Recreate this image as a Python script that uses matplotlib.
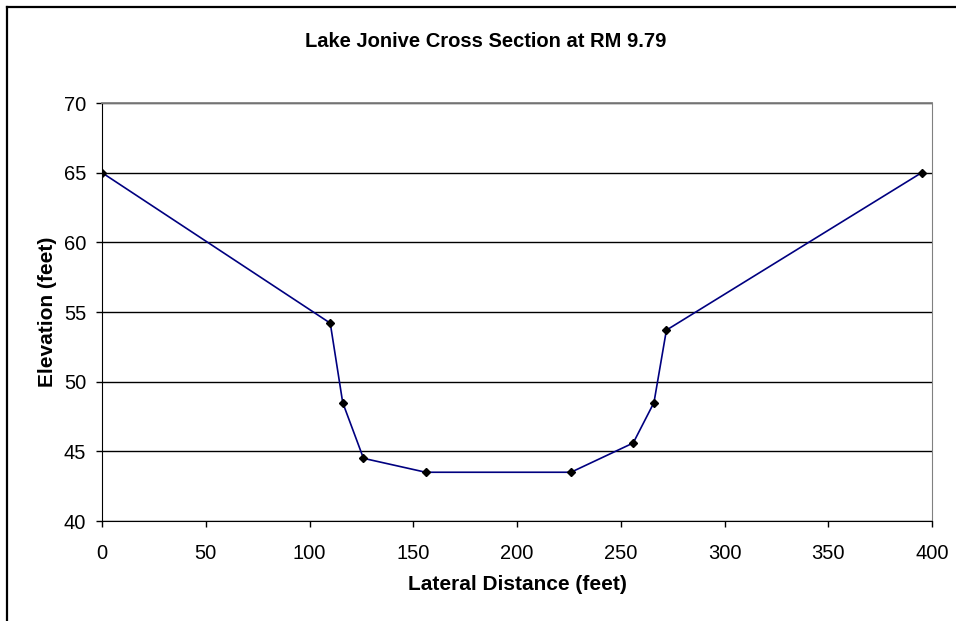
import matplotlib
matplotlib.use("Agg")
import matplotlib.pyplot as plt
from matplotlib.lines import Line2D

plt.rcParams['font.family'] = ['Liberation Sans', 'DejaVu Sans']

# Cross section survey points
distance = [0, 110, 116, 126, 156, 226, 256, 266, 272, 395]
elevation = [65, 54.2, 48.5, 44.5, 43.5, 43.5, 45.6, 48.5, 53.7, 65]

xticks = [0, 50, 100, 150, 200, 250, 300, 350, 400]
yticks = [40, 45, 50, 55, 60, 65, 70]

fig = plt.figure(figsize=(9.56, 6.21), dpi=100)
ax = fig.add_axes([0.1067, 0.1610, 0.8682, 0.6731])

# chart border (only top and left edges are inside the picture)
fig.add_artist(Line2D([6.5 / 956, 6.5 / 956], [0, 1 - 6.5 / 621],
                      transform=fig.transFigure, color='black', linewidth=1.6))
fig.add_artist(Line2D([6.5 / 956, 1], [1 - 6.5 / 621, 1 - 6.5 / 621],
                      transform=fig.transFigure, color='black', linewidth=1.6))

ax.plot(distance, elevation, color='#000080', linewidth=1.2,
        marker='D', markersize=4.5, markerfacecolor='black',
        markeredgecolor='black', zorder=3)

ax.set_xlim(0, 400)
ax.set_ylim(40, 70)
ax.set_xticks(xticks)
ax.set_yticks(yticks)
ax.yaxis.grid(True, color='black', linewidth=1)
ax.set_axisbelow(True)

ax.spines['top'].set_color('#808080')
ax.spines['top'].set_linewidth(1.3)
ax.spines['right'].set_color('#808080')
ax.tick_params(direction='out', length=4.5, width=1, labelsize=14.5)
ax.tick_params(axis='x', pad=12)
ax.tick_params(axis='y', pad=7)

fig.text(486 / 956, 1 - 47 / 621, 'Lake Jonive Cross Section at RM 9.79',
         fontsize=14.5, fontweight='bold', ha='center', va='baseline')
ax.set_xlabel('Lateral Distance (feet)', fontsize=15, fontweight='bold',
              labelpad=9)
ax.set_ylabel('Elevation (feet)', fontsize=15, fontweight='bold',
              labelpad=5)

fig.savefig('out.png', dpi=100)
